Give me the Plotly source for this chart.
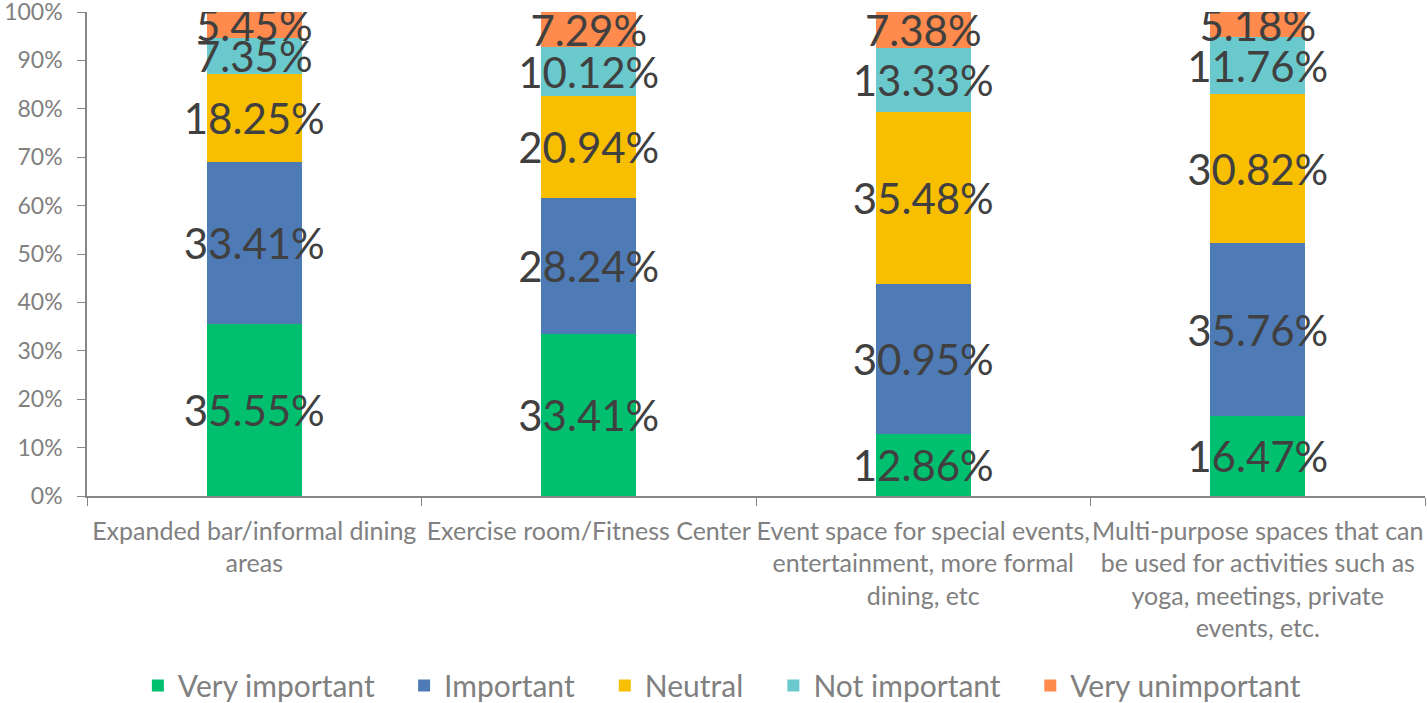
import plotly.graph_objects as go

categories = [
    "Expanded bar/informal dining<br>areas",
    "Exercise room/Fitness Center",
    "Event space for special events,<br>entertainment, more formal<br>dining, etc",
    "Multi-purpose spaces that can<br>be used for activities such as<br>yoga, meetings, private<br>events, etc.",
]
very_important = [35.55, 33.41, 12.86, 16.47]
important = [33.41, 28.24, 30.95, 35.76]
neutral = [18.25, 20.94, 35.48, 30.82]
not_important = [7.35, 10.12, 13.33, 11.76]
very_unimportant = [5.45, 7.29, 7.38, 5.18]
y_ticks = [0, 10, 20, 30, 40, 50, 60, 70, 80, 90, 100]

series = [
    ("Very important", very_important, "#00BF6F"),
    ("Important", important, "#4E7AB5"),
    ("Neutral", neutral, "#F8BE00"),
    ("Not important", not_important, "#69C9CD"),
    ("Very unimportant", very_unimportant, "#FF8A4D"),
]
legend_ids = ["legend", "legend2", "legend3", "legend4", "legend5"]
legend_x = [0.038, 0.237, 0.387, 0.513, 0.705]

FONT = "Lato"
fig = go.Figure()
for (name, vals, color), lid in zip(series, legend_ids):
    fig.add_trace(go.Bar(
        name=name, x=categories, y=vals, legend=lid, showlegend=True,
        marker=dict(color=color, line=dict(width=0)),
        text=[f"{v:.2f}%" for v in vals],
        textposition="inside", insidetextanchor="middle",
        textangle=0, constraintext="none",
        textfont=dict(family=FONT, size=42, color="#404040"),
    ))

legend_style = dict(orientation="h", xanchor="left", y=-0.338, yanchor="top",
                    font=dict(size=30, color="#808080"), bgcolor="rgba(0,0,0,0)")
layout_legends = {lid: dict(x=lx, **legend_style) for lid, lx in zip(legend_ids, legend_x)}

fig.update_layout(
    barmode="stack", bargap=0.716,
    width=1427, height=703,
    margin=dict(l=87, r=2, t=12, b=207, autoexpand=False),
    plot_bgcolor="white", paper_bgcolor="white",
    font=dict(family=FONT, color="#808080"),
    xaxis=dict(showline=True, linecolor="#868686", linewidth=1.5, automargin=False,
               ticks="outside", tickson="boundaries", ticklen=8, tickcolor="#868686",
               ticklabelstandoff=12, tickangle=0,
               tickfont=dict(size=25, color="#808080"), showgrid=False),
    yaxis=dict(range=[0, 100], tickmode="array", tickvals=y_ticks,
               ticktext=[f"{t}%" for t in y_ticks], showline=True, automargin=False,
               ticklabeloverflow="allow", ticklabelstandoff=10,
               linecolor="#868686", linewidth=1.5, ticks="outside", ticklen=8,
               tickcolor="#868686", tickfont=dict(size=23, color="#808080"),
               showgrid=False, zeroline=False),
    **layout_legends,
)
fig.write_html("out.html", config={"displayModeBar": False},
               post_script="document.body.style.margin='0';")
